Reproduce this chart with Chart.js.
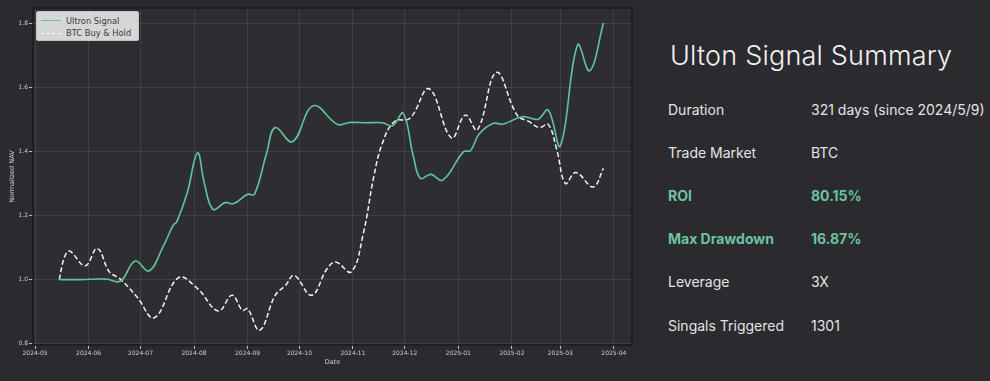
<!DOCTYPE html>
<html>
<head>
<meta charset="utf-8">
<script src="https://cdn.jsdelivr.net/npm/chart.js@4.4.1/dist/chart.umd.min.js"></script>
<style>
  html,body{margin:0;padding:0;background:#2b2a2f;}
  #wrap{position:relative;width:990px;height:381px;overflow:hidden;background:#2b2a2f;}
  #c{position:absolute;left:0;top:0;}
  #legend{position:absolute;left:36px;top:11px;width:101px;height:28px;background:#d6d6d6;border:1px solid #c4c4c4;border-radius:2px;font-family:"DejaVu Sans",sans-serif;font-size:8.3px;color:#3a3a3a;}
  .lrow{position:absolute;left:0;height:12px;line-height:12px;width:100%;}
  .lsample{position:absolute;left:4px;top:5.5px;width:20px;height:0;}
  .ltext{position:absolute;left:29px;top:0;white-space:nowrap;}
  .sum{position:absolute;font-family:"Inter","Lato",sans-serif;color:#e4e4e4;white-space:nowrap;}
  #title{left:670px;top:38px;font-size:27px;line-height:36px;font-weight:300;color:#f2f2f2;letter-spacing:0.2px;}
  .lab,.val{font-size:14px;line-height:20px;font-weight:400;}
  .hl{color:#6cc4a0;font-weight:700;}
</style>
</head>
<body>
<div id="wrap">
  <canvas id="c" width="640" height="381"></canvas>
  <div id="legend"></div>
  <div id="summary"></div>
</div>
<script>
// ---- data ----
const ultronDates = ['2024-05-15','2024-05-27','2024-06-08','2024-06-12','2024-06-18','2024-06-21','2024-06-28','2024-07-06','2024-07-14','2024-07-20','2024-07-22','2024-07-28','2024-08-03','2024-08-07','2024-08-12','2024-08-19','2024-08-24','2024-09-01','2024-09-05','2024-09-12','2024-09-17','2024-09-27','2024-10-09','2024-10-23','2024-10-30','2024-11-09','2024-11-18','2024-11-24','2024-11-30','2024-12-06','2024-12-10','2024-12-16','2024-12-23','2025-01-04','2025-01-08','2025-01-13','2025-01-21','2025-01-27','2025-02-07','2025-02-16','2025-02-22','2025-03-01','2025-03-11','2025-03-18','2025-03-26'];
const ultronValues = [1.000,1.000,1.002,1.001,0.993,1.003,1.058,1.027,1.102,1.17,1.18,1.269,1.395,1.30,1.219,1.24,1.237,1.266,1.266,1.394,1.474,1.43,1.542,1.484,1.49,1.489,1.489,1.48,1.519,1.383,1.316,1.328,1.31,1.399,1.402,1.454,1.487,1.485,1.508,1.50,1.529,1.417,1.732,1.651,1.80];

const btcDates = ['2024-05-15','2024-05-18','2024-05-21','2024-05-30','2024-06-06','2024-06-13','2024-06-19','2024-06-29','2024-07-09','2024-07-23','2024-08-03','2024-08-15','2024-08-23','2024-08-29','2024-09-01','2024-09-08','2024-09-17','2024-09-23','2024-09-28','2024-10-08','2024-10-17','2024-10-22','2024-10-31','2024-11-07','2024-11-13','2024-11-18','2024-11-25','2024-12-04','2024-12-15','2024-12-28','2025-01-05','2025-01-12','2025-01-23','2025-02-04','2025-02-11','2025-02-17','2025-02-22','2025-02-27','2025-03-04','2025-03-10','2025-03-20','2025-03-26'];
const btcValues = [1.000,1.07,1.089,1.043,1.097,1.024,1.003,0.946,0.881,1.006,0.972,0.902,0.951,0.904,0.909,0.842,0.951,0.982,1.013,0.951,1.034,1.055,1.024,1.144,1.32,1.425,1.493,1.503,1.595,1.442,1.513,1.467,1.646,1.513,1.4925,1.474,1.484,1.404,1.30,1.334,1.289,1.347];

const seriesNames = ['Ultron Signal','BTC Buy & Hold'];
const monthTickDates = ['2024-05-01','2024-06-01','2024-07-01','2024-08-01','2024-09-01','2024-10-01','2024-11-01','2024-12-01','2025-01-01','2025-02-01','2025-03-01','2025-04-01'];
const monthTickLabels = ['2024-05','2024-06','2024-07','2024-08','2024-09','2024-10','2024-11','2024-12','2025-01','2025-02','2025-03','2025-04'];
const yTickValues = [0.8,1.0,1.2,1.4,1.6,1.8];
const xAxisTitle = 'Date';
const yAxisTitle = 'Normalized NAV';

const summaryTitle = 'Ulton Signal Summary';
const summaryLabels = ['Duration','Trade Market','ROI','Max Drawdown','Leverage','Singals Triggered'];
const summaryValues = ['321 days (since 2024/5/9)','BTC','80.15%','16.87%','3X','1301'];
const summaryHighlight = [false,false,true,true,false,false];

// ---- helpers ----
const ORIGIN = Date.UTC(2024,4,1);
function dayOf(s){const [y,m,d]=s.split('-').map(Number);return (Date.UTC(y,m-1,d)-ORIGIN)/86400000;}
const GREEN = '#5fc4a0';

const frame = {
  id:'frame',
  beforeDraw(chart){
    const {ctx, chartArea:a} = chart;
    ctx.save();
    ctx.fillStyle = '#2e2d32';
    ctx.fillRect(a.left, a.top, a.right-a.left, a.bottom-a.top);
    ctx.restore();
  },
  afterDraw(chart){
    const {ctx, chartArea:a} = chart;
    ctx.save();
    ctx.strokeStyle = '#1b1b1e';
    ctx.lineWidth = 1.5;
    ctx.strokeRect(a.left, a.top, a.right-a.left, a.bottom-a.top);
    ctx.restore();
  }
};

const tickFont = {family:'"DejaVu Sans", sans-serif', size:6};
new Chart(document.getElementById('c'), {
  type:'line',
  data:{
    datasets:[
      {label:seriesNames[0], data:ultronDates.map((d,i)=>({x:dayOf(d),y:ultronValues[i]})),
       borderColor:GREEN, borderWidth:1.6, pointRadius:0, tension:0.4, fill:false},
      {label:seriesNames[1], data:btcDates.map((d,i)=>({x:dayOf(d),y:btcValues[i]})),
       borderColor:'#f4f4f4', borderWidth:1.5, borderDash:[5,2.6], pointRadius:0, tension:0.4, fill:false}
    ]
  },
  options:{
    responsive:false, animation:false, devicePixelRatio:1,
    layout:{padding:{left:0,right:8,top:8,bottom:0}},
    plugins:{legend:{display:false}, tooltip:{enabled:false}},
    scales:{
      x:{type:'linear', min:-1.2, max:345.5,
        afterBuildTicks(s){s.ticks = monthTickDates.map(d=>({value:dayOf(d)}));},
        afterFit(s){s.height = 36;},
        ticks:{color:'#cfcfcf', font:tickFont, padding:1, maxRotation:0, autoSkip:false,
          callback(v){const i = monthTickDates.findIndex(d=>dayOf(d)===v); return i>=0?monthTickLabels[i]:'';}},
        grid:{color:'rgba(255,255,255,0.09)', lineWidth:1, tickLength:4, tickColor:'#bdbdbd', drawTicks:true},
        border:{display:false},
        title:{display:true, text:xAxisTitle, color:'#cfcfcf', font:{family:'"DejaVu Sans", sans-serif', size:6.5}, padding:{top:0,bottom:15}}
      },
      y:{type:'linear', min:0.796, max:1.847,
        afterBuildTicks(s){s.ticks = yTickValues.map(v=>({value:v}));},
        afterFit(s){s.width = 33;},
        ticks:{color:'#cfcfcf', font:tickFont, padding:1, callback(v){return Number(v).toFixed(1);}},
        grid:{color:'rgba(255,255,255,0.09)', lineWidth:1, tickLength:4, tickColor:'#bdbdbd', drawTicks:true},
        border:{display:false},
        title:{display:true, text:yAxisTitle, color:'#cfcfcf', font:{family:'"DejaVu Sans", sans-serif', size:6.5}, padding:{top:8,bottom:0}}
      }
    }
  },
  plugins:[frame]
});

// ---- legend (HTML overlay) ----
const legend = document.getElementById('legend');
seriesNames.forEach((name,i)=>{
  const row = document.createElement('div');
  row.className='lrow'; row.style.top = (2.5 + i*12.6)+'px';
  const s = document.createElement('div'); s.className='lsample';
  s.style.borderTop = i===0 ? '1.6px solid '+GREEN : '1.5px dashed #ffffff';
  const t = document.createElement('div'); t.className='ltext'; t.textContent = name;
  row.appendChild(s); row.appendChild(t); legend.appendChild(row);
});

// ---- summary panel ----
const sum = document.getElementById('summary');
const title = document.createElement('div'); title.className='sum'; title.id='title'; title.textContent = summaryTitle; sum.appendChild(title);
const rowCenters = [110,153.3,196,239.3,282.3,325.7];
summaryLabels.forEach((lab,i)=>{
  const a = document.createElement('div'); a.className='sum lab'+(summaryHighlight[i]?' hl':'');
  a.style.left='668px'; a.style.top=(rowCenters[i]-10)+'px'; a.textContent=lab; sum.appendChild(a);
  const b = document.createElement('div'); b.className='sum val'+(summaryHighlight[i]?' hl':'');
  b.style.left='811px'; b.style.top=(rowCenters[i]-10)+'px'; b.textContent=summaryValues[i]; sum.appendChild(b);
});
</script>
</body>
</html>
